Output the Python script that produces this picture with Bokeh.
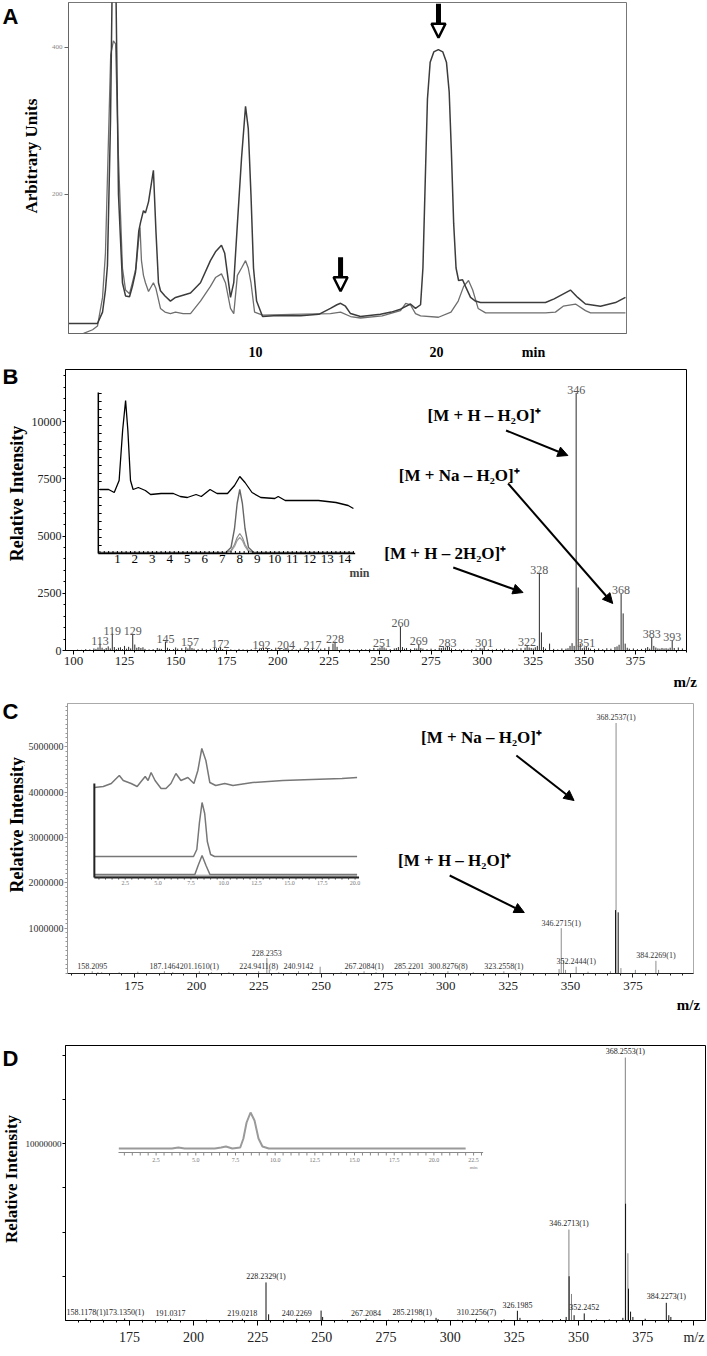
import numpy as np
from bokeh.plotting import figure
from bokeh.models import Range1d, FixedTicker, Label, Arrow, NormalHead, LinearAxis
from bokeh.layouts import column, row
from bokeh.embed import file_html
from bokeh.resources import INLINE
from bokeh.core.properties import value

SERIF = "Liberation Serif"
SANS = "Liberation Sans"

# ======================= DATA =======================
# ---- Panel A: HPLC chromatograms (min, arbitrary units)
A_time_1 = [-0.33, 1.27, 1.55, 1.71, 1.82, 1.99, 2.10, 2.27, 2.43, 2.65,
            2.82, 3.04, 3.20, 3.37, 3.55, 3.65, 3.81, 3.92, 4.09, 4.36,
            4.50, 4.64, 4.75, 5.00, 5.30, 5.58, 6.41, 6.96, 7.51, 7.79,
            8.12, 8.30, 8.62, 8.80, 9.00, 9.23, 9.45, 9.60, 9.75, 9.89,
            10.06, 10.39, 11.0, 12.5, 13.5, 14.14, 14.5, 14.7, 14.97, 15.25,
            15.8, 16.9, 17.5, 18.01, 18.56, 18.84, 19.12, 19.25, 19.38, 19.5,
            19.65, 19.85, 20.1, 20.35, 20.55, 20.7, 20.82, 20.95, 21.08, 21.22,
            21.44, 21.6, 21.88, 22.15, 22.43, 26.02, 26.5, 27.4, 27.8, 28.23,
            29.06, 29.89, 30.44]
A_au_1 = [24.5, 24.5, 40, 70, 103, 300, 520, 520, 200, 80,
          62, 61, 75, 94, 150, 162, 178, 175, 190, 233,
          150, 80, 69, 62, 55, 60, 66, 80, 110, 122,
          131, 120, 60, 80, 160, 250, 320, 290, 200, 100,
          55, 34, 35, 35, 37, 45, 50, 52, 48, 38,
          34, 37, 40, 44, 51, 45, 50, 100, 220, 330,
          380, 394, 397, 394, 380, 340, 260, 160, 100, 83,
          84, 75, 60, 55, 53, 53, 58, 70, 60, 51,
          48, 53, 60]
A_time_2 = [0.5, 1.0, 1.27, 1.55, 1.71, 1.85, 2.00, 2.15, 2.27, 2.43,
            2.65, 2.82, 3.04, 3.20, 3.40, 3.55, 3.62, 3.70, 3.81, 3.92,
            4.09, 4.36, 4.50, 4.75, 5.00, 5.30, 5.58, 6.00, 6.41, 6.96,
            7.51, 7.79, 8.12, 8.34, 8.62, 8.80, 9.00, 9.23, 9.45, 9.60,
            9.75, 9.95, 10.39, 12.0, 14.14, 14.7, 15.25, 15.8, 17.0, 18.01,
            18.3, 18.56, 18.84, 19.12, 20.11, 20.8, 21.2, 21.5, 21.77, 22.0,
            22.3, 22.71, 26.02, 26.57, 27.0, 27.68, 28.23, 28.51, 30.44]
A_au_2 = [11, 16, 21, 60, 120, 250, 390, 409, 405, 250,
          100, 70, 65, 80, 100, 140, 155, 110, 90, 80,
          68, 80, 72, 45, 40, 38, 40, 38, 38, 55,
          75, 87, 92, 80, 45, 38, 90, 100, 110, 100,
          80, 40, 36, 37, 38, 40, 34, 32, 35, 42,
          52, 50, 38, 35, 33, 40, 55, 75, 83, 70,
          45, 39, 39, 40, 48, 51, 42, 39, 39]
A_xticks = [10, 20]
A_yticks = [200, 400]
A_arrow_time = [14.7, 20.11]

# ---- Panel B: ESI mass spectrum (m/z, counts)
B_mz = [102, 104, 106, 108, 110, 111, 112, 113, 114, 115,
        116, 117, 118, 119, 120, 121, 122, 123, 124, 125,
        126, 127, 128, 129, 130, 131, 132, 133, 134, 135,
        137, 139, 141, 142, 143, 145, 146, 147, 149, 150,
        151, 153, 155, 156, 157, 158, 159, 161, 163, 165,
        167, 169, 170, 171, 172, 173, 175, 177, 179, 181,
        183, 185, 187, 189, 191, 192, 193, 195, 197, 199,
        201, 203, 204, 205, 207, 209, 211, 213, 215, 217,
        219, 221, 223, 225, 227, 228, 229, 231, 233, 235,
        237, 239, 241, 243, 245, 247, 249, 250, 251, 252,
        253, 255, 257, 258, 259, 260, 261, 262, 263, 265,
        267, 268, 269, 270, 271, 273, 275, 277, 279, 280,
        281, 282, 283, 284, 285, 287, 289, 291, 293, 295,
        297, 299, 300, 301, 303, 305, 307, 309, 311, 313,
        315, 317, 319, 321, 322, 323, 324, 325, 326, 327,
        328, 329, 330, 331, 333, 335, 337, 339, 341, 342,
        343, 344, 345, 346, 347, 348, 349, 350, 351, 352,
        353, 355, 357, 359, 361, 363, 365, 366, 367, 368,
        369, 370, 371, 372, 374, 376, 378, 380, 381, 382,
        383, 384, 385, 386, 387, 388, 389, 390, 391, 392,
        393, 394, 396, 398]
B_int = [40, 30, 60, 50, 90, 70, 130, 300, 120, 60,
         110, 180, 90, 740, 150, 60, 120, 140, 60, 200,
         80, 160, 90, 740, 260, 120, 150, 110, 140, 70,
         50, 60, 110, 80, 70, 390, 120, 70, 60, 130,
         80, 100, 150, 90, 220, 110, 80, 60, 90, 50,
         70, 140, 90, 110, 150, 60, 40, 50, 30, 70,
         50, 40, 60, 40, 80, 100, 120, 90, 60, 120,
         80, 70, 100, 90, 60, 40, 90, 60, 100, 120,
         60, 80, 100, 160, 300, 390, 160, 50, 40, 60,
         30, 40, 60, 50, 70, 110, 80, 120, 200, 130,
         90, 60, 90, 110, 150, 1050, 150, 80, 110, 70,
         100, 90, 290, 110, 80, 60, 80, 60, 120, 110,
         140, 130, 200, 150, 90, 60, 50, 70, 40, 60,
         80, 110, 90, 200, 60, 40, 70, 50, 90, 50,
         60, 80, 100, 120, 220, 130, 110, 90, 140, 200,
         3400, 790, 150, 80, 300, 70, 50, 90, 80, 100,
         200, 320, 200, 11250, 2750, 300, 100, 140, 180, 120,
         80, 70, 90, 60, 100, 80, 150, 180, 250, 2490,
         1620, 300, 120, 80, 90, 60, 70, 100, 150, 80,
         570, 200, 130, 90, 80, 110, 90, 100, 80, 120,
         440, 110, 130, 90]
B_labels = [113, 119, 129, 145, 157, 172, 192, 204, 217, 228, 251,
            260, 269, 283, 301, 322, 328, 346, 351, 368, 383, 393]
B_xticks = [100, 125, 150, 175, 200, 225, 250, 275, 300, 325, 350, 375]
B_yticks = [0, 2500, 5000, 7500, 10000]
# inset: total ion chromatogram and extracted ion traces (min, signal)
B_in_time = [0.0, 0.5, 0.82, 1.1, 1.3, 1.47, 1.6, 1.75, 1.9, 2.2,
             2.6, 2.9, 3.5, 4.2, 4.6, 5.0, 5.5, 5.8, 6.3, 6.7,
             7.3, 7.7, 8.0, 8.3, 8.7, 9.2, 10.0, 10.2, 10.6, 11.5,
             12.5, 13.5, 14.2, 14.5]
B_in_tic = [64, 64, 61, 73, 123, 153, 123, 73, 64, 66,
            63, 59, 60, 60, 57, 56, 59, 57, 64, 60,
            60, 68, 77, 71, 61, 56, 55, 57, 53, 53,
            53, 51, 48, 45]
B_in_eic_time = [0.0, 7.2, 7.5, 7.7, 7.85, 8.0, 8.15, 8.3, 8.5, 8.8, 14.5]
B_in_eic_1 = [1, 1, 6, 25, 50, 64, 50, 25, 6, 1, 1]
B_in_eic_2 = [1, 1, 3, 9, 16, 20, 16, 9, 3, 1, 1]
B_in_eic_3 = [1, 1, 2, 7, 13, 16, 13, 7, 2, 1, 1]
B_in_xticks = [1, 2, 3, 4, 5, 6, 7, 8, 9, 10, 11, 12, 13, 14]

# ---- Panel C: HR mass spectrum
C_gray_mz = [158.2095, 160.5, 162.0, 169.0, 176.5, 187.1464, 190.5, 201.161, 206.0, 213.0,
             224.9411, 228.2353, 229.2, 233.0, 240.9142, 246.0, 249.6, 258.0, 267.2084, 272.0,
             285.2201, 292.0, 300.8276, 311.0, 323.2558, 330.0, 345.4, 346.2715, 347.2, 348.0,
             352.2444, 357.0, 366.0, 368.2537, 370.2, 376.0, 384.2269, 385.3]
C_gray_int = [50000, 30000, 30000, 30000, 40000, 50000, 30000, 50000, 30000, 30000,
              50000, 340000, 80000, 30000, 50000, 30000, 150000, 30000, 50000, 30000,
              50000, 30000, 50000, 30000, 50000, 30000, 100000, 1000000, 300000, 80000,
              150000, 40000, 50000, 5530000, 120000, 80000, 280000, 80000]
C_black_mz = [368.05, 369.1]
C_black_int = [1400000, 1350000]
C_lab_mz = [158.2095, 187.1464, 201.161, 224.9411, 228.2353, 240.9142, 267.2084,
            285.2201, 300.8276, 323.2558, 346.2715, 352.2444, 368.2537, 384.2269]
C_lab_txt = ["158.2095", "187.1464", "201.1610(1)", "224.9411(8)", "228.2353", "240.9142",
             "267.2084(1)", "285.2201", "300.8276(8)", "323.2558(1)", "346.2715(1)",
             "352.2444(1)", "368.2537(1)", "384.2269(1)"]
C_xticks = [175, 200, 225, 250, 275, 300, 325, 350, 375]
C_yticks = [1000000, 2000000, 3000000, 4000000, 5000000]
C_in_time_1 = [0.15, 0.83, 1.44, 1.74, 2.05, 2.35, 2.95, 3.41, 3.71, 4.02,
               4.24, 4.47, 4.77, 5.23, 5.6, 5.98, 6.36, 6.74, 7.27, 7.73,
               8.03, 8.33, 8.64, 8.94, 9.39, 10.08, 10.7, 12.2, 14.5, 16.7,
               19.0, 20.15]
C_in_sig_1 = [90, 91, 94, 98, 102, 97, 94, 91, 96, 101,
              97, 105, 97, 89, 89, 94, 104, 97, 100, 94,
              107, 129, 117, 95, 92, 94, 92, 95, 97, 98,
              99, 100]
C_in_time_2 = [0.15, 7.7, 7.95, 8.15, 8.35, 8.55, 8.75, 9.0, 9.3, 20.15]
C_in_sig_2 = [21, 21, 28, 55, 75, 64, 36, 23, 21, 21]
C_in_time_3 = [0.15, 7.8, 8.05, 8.35, 8.65, 8.95, 20.15]
C_in_sig_3 = [3, 3, 12, 22, 12, 3, 3]
C_in_xticks = [2.5, 5.0, 7.5, 10.0, 12.5, 15.0, 17.5, 20.0]

# ---- Panel D: HR mass spectrum
D_gray_mz = [346.2713, 347.27, 368.2553, 369.26]
D_gray_int = [5140000, 1500000, 14860000, 3800000]
D_black_mz = [158.1178, 164.5, 173.135, 180.0, 191.0317, 205.0, 219.0218, 228.2329, 229.25, 235.0,
              240.2269, 249.7, 250.3, 258.0, 267.2084, 276.0, 285.2198, 294.5, 295.3, 303.0,
              310.2256, 321.0, 326.1985, 327.2, 336.0, 343.0, 345.2, 346.35, 348.3, 352.2452,
              357.0, 362.0, 367.3, 368.35, 369.5, 370.3, 371.2, 376.0, 384.2273, 385.2,
              386.0]
D_black_int = [120000, 50000, 120000, 40000, 100000, 40000, 100000, 2150000, 350000, 40000,
               100000, 560000, 200000, 40000, 100000, 40000, 100000, 150000, 80000, 40000,
               100000, 60000, 550000, 150000, 50000, 80000, 200000, 2500000, 300000, 400000,
               60000, 60000, 150000, 6600000, 1800000, 500000, 200000, 100000, 1000000, 300000,
               200000]
D_lab_mz = [158.1178, 173.135, 191.0317, 219.0218, 228.2329, 240.2269, 267.2084,
            285.2198, 310.2256, 326.1985, 346.2713, 352.2452, 368.2553, 384.2273]
D_lab_txt = ["158.1178(1)", "173.1350(1)", "191.0317", "219.0218", "228.2329(1)", "240.2269",
             "267.2084", "285.2198(1)", "310.2256(7)", "326.1985", "346.2713(1)", "352.2452",
             "368.2553(1)", "384.2273(1)"]
D_xticks = [175, 200, 225, 250, 275, 300, 325, 350, 375]
D_yticks = [5000000, 10000000, 15000000]
D_in_time = [0.15, 3.5, 3.9, 4.3, 6.2, 6.6, 6.9, 7.3, 7.8, 8.0,
             8.2, 8.45, 8.7, 8.95, 9.2, 9.6, 10.2, 22.0]
D_in_sig = [4, 4, 5, 4, 4, 5, 6, 4, 5, 14,
            30, 40, 32, 14, 6, 4, 4, 4]
D_in_xticks = [2.5, 5.0, 7.5, 10.0, 12.5, 15.0, 17.5, 20.0, 22.5]

# ======================= LAYOUT =======================
W = 707


def band_row(band, frame, xr, yr, sw, letter, letter_xy, title, title_xy, title_size=18):
    b0, b1 = band
    L, R, T, B = frame
    h = b1 - b0
    p = figure(width=W - sw, height=h,
               x_range=Range1d(*xr), y_range=Range1d(*yr),
               output_backend="svg", toolbar_location=None,
               min_border_left=L - sw, min_border_right=W - R,
               min_border_top=T - b0, min_border_bottom=b1 - B)
    p.xgrid.visible = False
    p.ygrid.visible = False
    p.background_fill_color = "white"
    p.border_fill_color = "white"
    s = figure(width=sw, height=h, x_range=Range1d(0, sw), y_range=Range1d(0, h),
               x_axis_location=None, y_axis_location=None, min_border=0,
               output_backend="svg", toolbar_location=None)
    s.outline_line_color = None
    s.xgrid.visible = False
    s.ygrid.visible = False
    s.text(x=[letter_xy[0]], y=[b1 - letter_xy[1]], text=[letter], text_font=value(SANS),
           text_font_size="22px", text_font_style="bold", text_align="center",
           text_baseline="middle")
    s.text(x=[title_xy[0]], y=[b1 - title_xy[1]], text=[title], text_font=value(SERIF),
           text_font_size=f"{title_size}px", text_font_style="bold", text_align="center",
           text_baseline="middle", angle=np.pi / 2)

    def at(px, py):
        x = xr[0] + (px - L) / (R - L) * (xr[1] - xr[0])
        y = yr[0] + (B - py) / (B - T) * (yr[1] - yr[0])
        return x, y
    return p, s, at


def style_axis(ax, color, size, tick_out, standoff, lcolor="black", bold=False, minor_out=2):
    ax.axis_line_color = color
    ax.major_tick_line_color = color
    ax.minor_tick_line_color = color
    ax.major_tick_out = tick_out
    ax.major_tick_in = 0
    ax.minor_tick_out = minor_out
    ax.minor_tick_in = 0
    ax.major_label_standoff = standoff
    ax.major_label_text_font = SERIF
    ax.major_label_text_font_size = size
    ax.major_label_text_color = lcolor
    if bold:
        ax.major_label_text_font_style = "bold"


def add_label(p, xy, text, size, font=SERIF, bold=True, color="black"):
    p.add_layout(Label(x=xy[0], y=xy[1], text=text, text_font=font,
                       text_font_size=f"{size}px",
                       text_font_style="bold" if bold else "normal",
                       text_color=color, text_align="center", text_baseline="middle"))


def add_arrow(p, a, b, width=2, head=10, fill="black", hl=1):
    p.add_layout(Arrow(end=NormalHead(size=head, fill_color=fill, line_color="black", line_width=hl),
                       x_start=a[0], y_start=a[1], x_end=b[0], y_end=b[1],
                       line_width=width, line_color="black"))


def add_mz_axis(p, frac, standoff, size="15px"):
    # secondary axis carrying only the bold "m/z" caption, stacked under the main x axis
    p.extra_x_ranges["lab"] = Range1d(0, 1000)
    ax = LinearAxis(x_range_name="lab", ticker=FixedTicker(ticks=[frac]),
                    major_label_overrides={frac: "m/z"})
    ax.axis_line_color = None
    ax.major_tick_line_color = None
    ax.minor_tick_line_color = None
    ax.major_tick_out = 0
    ax.major_tick_in = 0
    ax.major_label_standoff = standoff
    ax.major_label_text_font = SERIF
    ax.major_label_text_font_style = "bold"
    ax.major_label_text_font_size = size
    ax.major_label_text_color = "black"
    p.add_layout(ax, "below")


ins = dict(x_range_name="ins", y_range_name="ins")

# ---------------- Panel A ----------------
pA, sA, atA = band_row((0, 362), (68, 626, 2, 333), (-0.331, 30.497), (10.9, 461.2), 42,
                       "A", (10, 15), "Arbitrary Units", (31, 168), title_size=17)
pA.outline_line_color = "#777777"
pA.line(A_time_2, A_au_2, color="#6e6e6e", line_width=1.3)
pA.line(A_time_1, A_au_1, color="#3c3c3c", line_width=1.5)
A_min_pos = atA(533, 352)[0]
pA.xaxis.ticker = FixedTicker(ticks=A_xticks + [A_min_pos])
ov = {t: str(t) for t in A_xticks}
ov[A_min_pos] = "min"
pA.xaxis.major_label_overrides = ov
style_axis(pA.xaxis[0], "#666666", "14px", 0, 11, bold=True)
pA.yaxis.ticker = FixedTicker(ticks=A_yticks)
pA.yaxis.major_label_overrides = {t: str(t) for t in A_yticks}
style_axis(pA.yaxis[0], "#666666", "7px", 4, 2, lcolor="#888888")
for t in A_arrow_time:
    i1 = min(range(len(A_time_1)), key=lambda k: abs(A_time_1[k] - t))
    i2 = min(range(len(A_time_2)), key=lambda k: abs(A_time_2[k] - t))
    peak = max(A_au_1[i1], A_au_2[i2])
    tip = peak + 12 / 331 * 450
    add_arrow(pA, (t, tip + 34 / 331 * 450), (t, tip), width=5, head=14, fill="white", hl=2.5)

# ---------------- Panel B ----------------
pB, sB, atB = band_row((362, 695), (63, 686, 369, 650), (96.1, 400.0), (0, 12271), 28,
                       "B", (10, 370), "Relative Intensity", (16.5, 509))
pB.outline_line_color = "black"
pB.extra_x_ranges = {"ins": Range1d(-1.967, 33.55)}
pB.extra_y_ranges = {"ins": Range1d(-97, 184)}
pB.segment(x0=B_mz, y0=0, x1=B_mz, y1=B_int, color="#2a2a2a", line_width=1)
B_lookup = dict(zip(B_mz, B_int))
pB.text(x=B_labels, y=[B_lookup[m] for m in B_labels], text=[str(m) for m in B_labels],
        text_font=value(SERIF), text_font_size="12px", text_color="#5a5a5a",
        text_align="center", text_baseline="middle", y_offset=-3)
pB.xaxis.ticker = FixedTicker(ticks=B_xticks, minor_ticks=list(range(100, 401, 5)))
pB.xaxis.major_label_overrides = {t: str(t) for t in B_xticks}
style_axis(pB.xaxis[0], "black", "13px", 4, 2, lcolor="#222222")
pB.yaxis.ticker = FixedTicker(ticks=B_yticks, minor_ticks=list(range(0, 12001, 500)))
pB.yaxis.major_label_overrides = {t: str(t) for t in B_yticks}
style_axis(pB.yaxis[0], "black", "12px", 3, 1, lcolor="#222222")
add_mz_axis(pB, 998, 6)
# inset
pB.line(B_in_eic_time, B_in_eic_3, color="#a0a0a0", line_width=1.2, **ins)
pB.line(B_in_eic_time, B_in_eic_2, color="#8c8c8c", line_width=1.2, **ins)
pB.line(B_in_eic_time, B_in_eic_1, color="#666666", line_width=1.4, **ins)
pB.line(B_in_time, B_in_tic, color="black", line_width=1.3, **ins)
pB.segment(x0=[-0.09, -0.09], y0=[0, 0], x1=[-0.09, 14.6], y1=[161, 0], color="black", line_width=1.5, **ins)
mt = np.arange(0, 14.55, 0.25)
pB.segment(x0=mt, y0=0, x1=mt, y1=2.5, color="black", line_width=1, **ins)
yt = np.arange(8, 161, 8)
pB.segment(x0=-0.09, y0=yt, x1=0.1, y1=yt, color="black", line_width=1, **ins)
pB.text(x=B_in_xticks, y=-1.5, text=[str(t) for t in B_in_xticks], text_font=value(SERIF),
        text_font_size="13px", text_align="center", text_baseline="top", **ins)
pB.add_layout(Label(x=14.85, y=-19, text="min", text_font=SERIF, text_font_size="12px",
                    text_font_style="bold", text_align="center", text_baseline="middle", **ins))
add_label(pB, atB(483, 415), "[M + H \u2013 H\u2082O]\u207a", 17)
add_label(pB, atB(458, 475), "[M + Na \u2013 H\u2082O]\u207a", 17)
add_label(pB, atB(444, 553), "[M + H \u2013 2H\u2082O]\u207a", 17)
add_arrow(pB, atB(505, 430), atB(567, 455))
add_arrow(pB, atB(507, 483), atB(612, 603))
add_arrow(pB, atB(452, 567), atB(522, 592))

# ---------------- Panel C ----------------
pC, sC, atC = band_row((695, 1018), (64, 693, 703, 973), (148.3, 399.3), (0, 5.96e6), 25,
                       "C", (10, 705), "Relative Intensity", (16, 840))
pC.outline_line_color = "#aaaaaa"
pC.extra_x_ranges = {"ins": Range1d(-1.894, 45.76)}
pC.extra_y_ranges = {"ins": Range1d(-96, 174)}
pC.segment(x0=C_gray_mz, y0=0, x1=C_gray_mz, y1=C_gray_int, color="#8c8c8c", line_width=1)
pC.segment(x0=C_black_mz, y0=0, x1=C_black_mz, y1=C_black_int, color="#111111", line_width=1)
C_lookup = dict(zip(C_gray_mz + C_black_mz, C_gray_int + C_black_int))
pC.text(x=C_lab_mz, y=[C_lookup[m] for m in C_lab_mz], text=C_lab_txt,
        text_font=value(SERIF), text_font_size="8px", text_color="#333333",
        text_align="center", text_baseline="middle", y_offset=-5)
pC.xaxis.ticker = FixedTicker(ticks=C_xticks, minor_ticks=list(range(150, 400, 5)))
pC.xaxis.major_label_overrides = {t: str(t) for t in C_xticks}
style_axis(pC.xaxis[0], "#222222", "13px", 4, 4, lcolor="#222222")
pC.yaxis.ticker = FixedTicker(ticks=C_yticks, minor_ticks=list(range(0, 5960001, 100000)))
pC.yaxis.major_label_overrides = {t: str(t) for t in C_yticks}
style_axis(pC.yaxis[0], "#999999", "10px", 3, 1, lcolor="#333333")
add_mz_axis(pC, round((688 - 64) / (693 - 64) * 1000), 4)
# inset
pC.line([0.15, 20.15], [1.5, 1.5], color="#bbbbbb", line_width=3, **ins)
pC.line(C_in_time_3, C_in_sig_3, color="#777777", line_width=1.5, **ins)
pC.line(C_in_time_2, C_in_sig_2, color="#777777", line_width=1.5, **ins)
pC.line(C_in_time_1, C_in_sig_1, color="#777777", line_width=1.5, **ins)
pC.segment(x0=[0.15, 0.15], y0=[0, 0], x1=[0.15, 20.3], y1=[94, 0], color="#222222", line_width=2, **ins)
mt = np.arange(0.5, 20.3, 0.5)
pC.segment(x0=mt, y0=0, x1=mt, y1=-2, color="#444444", line_width=1, **ins)
pC.text(x=C_in_xticks, y=-5, text=[f"{t:.1f}" for t in C_in_xticks], text_font=value(SERIF),
        text_font_size="6px", text_color="#777777", text_align="center", text_baseline="middle", **ins)
add_label(pC, atC(480, 737), "[M + Na \u2013 H\u2082O]\u207a", 17)
add_label(pC, atC(453, 860), "[M + H \u2013 H\u2082O]\u207a", 17)
add_arrow(pC, atC(515, 755), atC(573, 800))
add_arrow(pC, atC(448, 875), atC(523, 912))

# ---------------- Panel D ----------------
pD, sD, atD = band_row((1018, 1356), (64, 705, 1045, 1320), (150.1, 399.5), (0, 1.554e7), 22,
                       "D", (10, 1034), "Relative Intensity", (11, 1182), title_size=17)
pD.outline_line_color = "black"
pD.extra_x_ranges = {"ins": Range1d(-3.208, 37.11)}
pD.extra_y_ranges = {"ins": Range1d(-168, 107)}
pD.segment(x0=D_gray_mz, y0=0, x1=D_gray_mz, y1=D_gray_int, color="#808080", line_width=1)
pD.segment(x0=D_black_mz, y0=0, x1=D_black_mz, y1=D_black_int, color="#111111", line_width=1)
D_lookup = dict(zip(D_gray_mz + D_black_mz, D_gray_int + D_black_int))
pD.text(x=D_lab_mz, y=[D_lookup[m] for m in D_lab_mz], text=D_lab_txt,
        text_font=value(SERIF), text_font_size="8px", text_color="#222222",
        text_align="center", text_baseline="middle", y_offset=-6)
pD.xaxis.ticker = FixedTicker(ticks=D_xticks + [395], minor_ticks=list(range(150, 400, 5)))
ov = {t: str(t) for t in D_xticks}
ov[395] = "m/z"
pD.xaxis.major_label_overrides = ov
style_axis(pD.xaxis[0], "black", "14px", 5, 4, lcolor="#222222")
pD.yaxis.ticker = FixedTicker(ticks=D_yticks, minor_ticks=[2500000, 7500000, 12500000])
pD.yaxis.major_label_overrides = {5000000: "", 10000000: "10000000", 15000000: ""}
style_axis(pD.yaxis[0], "black", "9px", 3, 1, lcolor="#222222", minor_out=3)
# inset
pD.line(D_in_time, D_in_sig, color="#9a9a9a", line_width=2, **ins)
pD.segment(x0=[0.13], y0=[0], x1=[23.1], y1=[0], color="#888888", line_width=1.2, **ins)
mt = np.arange(0.5, 23.1, 0.5)
pD.segment(x0=mt, y0=0, x1=mt, y1=-3, color="#888888", line_width=1, **ins)
pD.text(x=D_in_xticks, y=-7, text=[f"{t:.1f}" for t in D_in_xticks], text_font=value(SERIF),
        text_font_size="6px", text_color="#777777", text_align="center", text_baseline="middle", **ins)
pD.add_layout(Label(x=22.5, y=-15, text="min", text_font=SERIF, text_font_size="5px",
                    text_color="#777777", text_align="center", text_baseline="middle", **ins))

layout = column(row(sA, pA), row(sB, pB), row(sC, pC), row(sD, pD), spacing=0)
open("out.html", "w").write(file_html(layout, INLINE))
